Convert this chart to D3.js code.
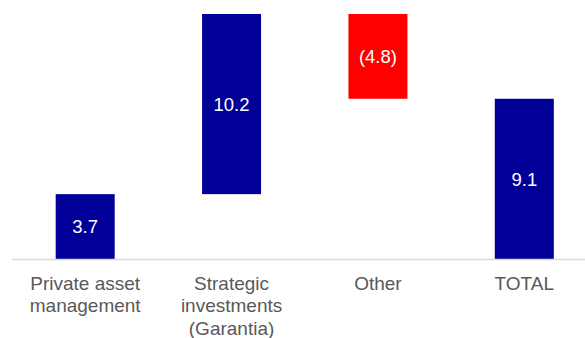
<!DOCTYPE html>
<html>
<head>
<meta charset="utf-8">
<script src="https://cdn.jsdelivr.net/npm/d3@7"></script>
<style>
  html, body { margin: 0; padding: 0; background: #fff; }
  svg { display: block; }
</style>
</head>
<body>
<svg id="chart" width="585" height="338"></svg>
<script>
// Waterfall steps: each bar starts where the previous one ended; TOTAL starts at zero
const categories = [
  ["Private asset", "management"],
  ["Strategic", "investments", "(Garantia)"],
  ["Other"],
  ["TOTAL"]
];
const deltas = [3.7, 10.2, -4.8, 9.1];
const isTotal = [false, false, false, true];
const valueLabels = ["3.7", "10.2", "(4.8)", "9.1"];

const svg = d3.select("#chart");
const W = 585, H = 338;
const baseY = 259.5;

// Build the floating ranges for each bar
let running = 0;
const bars = deltas.map((d, i) => {
  let start, end;
  if (isTotal[i]) { start = 0; end = d; running = d; }
  else { start = running; end = running + d; running = end; }
  return { i, start, end, delta: d, label: valueLabels[i], lines: categories[i] };
});

const x = d3.scaleBand()
  .domain(d3.range(categories.length))
  .range([12, 597.5])
  .paddingInner(0.597)
  .paddingOuter(0.2985);

const y = d3.scaleLinear()
  .domain([0, 13.9])
  .range([baseY, 14]);

const colorUp = "#000099";
const colorDown = "#ff0000";

svg.append("g")
  .selectAll("rect")
  .data(bars)
  .join("rect")
  .attr("x", d => x(d.i))
  .attr("width", x.bandwidth())
  .attr("y", d => y(Math.max(d.start, d.end)))
  .attr("height", d => Math.abs(y(d.start) - y(d.end)))
  .attr("fill", d => d.delta < 0 ? colorDown : colorUp);

// Baseline
svg.append("line")
  .attr("x1", 12).attr("x2", W)
  .attr("y1", y(0)).attr("y2", y(0))
  .attr("stroke", "#d9d9d9")
  .attr("stroke-width", 1.5);

// Value labels centred inside each bar
svg.append("g")
  .selectAll("text")
  .data(bars)
  .join("text")
  .attr("x", d => x(d.i) + x.bandwidth() / 2)
  .attr("y", d => (y(d.start) + y(d.end)) / 2)
  .attr("text-anchor", "middle")
  .attr("dominant-baseline", "central")
  .attr("font-family", "'Liberation Sans', Arial, sans-serif")
  .attr("font-size", 18.5)
  .attr("fill", "#ffffff")
  .text(d => d.label);

// Category labels below the baseline
const cat = svg.append("g")
  .selectAll("text")
  .data(bars)
  .join("text")
  .attr("x", d => x(d.i) + x.bandwidth() / 2)
  .attr("y", 289.5)
  .attr("text-anchor", "middle")
  .attr("font-family", "'Liberation Sans', Arial, sans-serif")
  .attr("font-size", 19)
  .attr("fill", "#595959");

cat.selectAll("tspan")
  .data(d => d.lines)
  .join("tspan")
  .attr("x", function() { return d3.select(this.parentNode).attr("x"); })
  .attr("dy", (d, j) => j === 0 ? 0 : 22.7)
  .text(d => d);
</script>
</body>
</html>
